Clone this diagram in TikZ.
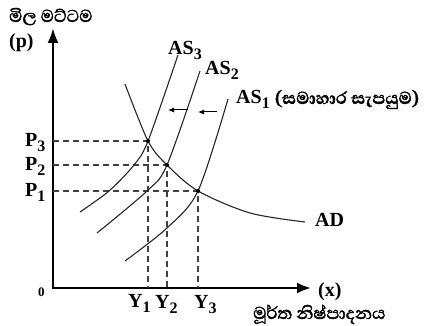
\documentclass[tikz,border=0pt]{standalone}
\usepackage{fontspec}
\setmainfont{Liberation Serif}
\newfontfamily\sinhalafont[Script=Sinhala,FakeBold=1.6]{Abhaya Libre}
\usetikzlibrary{arrows.meta}
\newcommand\sbx[1]{\raisebox{-0.22em}{\fontsize{16}{16}\selectfont #1}}
\begin{document}
\begin{tikzpicture}[x=1pt,y=-1pt,
  lbl/.style={font=\fontsize{20}{20}\selectfont\bfseries, inner sep=0pt, anchor=base west},
  zlbl/.style={font=\fontsize{13}{13}\selectfont\bfseries, inner sep=0pt, anchor=base west},
  slbl/.style={font=\sinhalafont\fontsize{22}{22}\selectfont, inner sep=0pt, anchor=base west},
  curve/.style={line width=1.1pt, black!85},
  guide/.style={dash pattern=on 6pt off 4pt, line width=1.1pt, black!75},
  axis/.style={line width=2.4pt, {Latex[length=15pt,width=11pt]}-{Latex[length=14pt,width=11pt]}},
  shiftarrow/.style={line width=1pt, -{Latex[length=6pt,width=5pt]}},
  dot/.style={circle, fill=black, inner sep=0pt, minimum size=4pt}]
\useasboundingbox (0,0) rectangle (448,326);
% axes
\coordinate (O) at (53,288);
\coordinate (ytip) at (53,28);
\coordinate (xtip) at (311,288);
\draw[axis] (ytip) -- (O) -- (xtip);
% equilibrium points
\coordinate (E3) at (148,141);
\coordinate (E2) at (167,165);
\coordinate (E1) at (198,191);
\coordinate (P3a) at (53,141);
\coordinate (P2a) at (53,165);
\coordinate (P1a) at (53,191);
\coordinate (Y1a) at (148,288);
\coordinate (Y2a) at (167,288);
\coordinate (Y3a) at (198,288);
% guides
\draw[guide] (P3a) -- (E3) -- (Y1a);
\draw[guide] (P2a) -- (E2) -- (Y2a);
\draw[guide] (P1a) -- (E1) -- (Y3a);
% curves
\draw[curve] plot[smooth] coordinates {(80,212) (109,191) (134,165) (E3) (178,55)};
\draw[curve] plot[smooth] coordinates {(97,233) (147,191) (E2) (200,71)};
\draw[curve] plot[smooth] coordinates {(125,261) (167,228) (E1) (228,99)};
\draw[curve] plot[smooth] coordinates {(125,84) (E3) (E2) (E1) (250,213) (305,222)};
\node[dot] (d3) at (E3) {};
\node[dot] (d2) at (E2) {};
\node[dot] (d1) at (E1) {};
% shift arrows
\coordinate (a1s) at (188,110);
\coordinate (a1e) at (168,110);
\coordinate (a2s) at (217,112);
\coordinate (a2e) at (198,112);
\draw[shiftarrow] (a1s) -- (a1e);
\draw[shiftarrow] (a2s) -- (a2e);
% labels
\node[slbl] (ttl) at (9,22) {මිල මට්ටම};
\node[lbl] (p) at (9,48) {(p)};
\node[zlbl] (zero) at (38,297) {0};
\node[lbl] (P3) at (25,147) {P\sbx{3}};
\node[lbl] (P2) at (25,171) {P\sbx{2}};
\node[lbl] (P1) at (25,197) {P\sbx{1}};
\node[lbl] (Y1) at (128,308) {Y\sbx{1}};
\node[lbl] (Y2) at (155,309) {Y\sbx{2}};
\node[lbl] (Y3) at (194,309) {Y\sbx{3}};
\node[lbl] (x) at (318,297) {(x)};
\node[slbl] (xt) at (253,319) {මූර්ත නිෂ්පාදනය};
\node[lbl] (AS3) at (168,55) {AS\sbx{3}};
\node[lbl] (AS2) at (205,75) {AS\sbx{2}};
\node[lbl] (AS1) at (236,104) {AS\sbx{1} {\sinhalafont\fontsize{22}{22}\selectfont (සමාහාර සැපයුම)}};
\node[lbl] (AD) at (315,227) {AD};
\end{tikzpicture}
\end{document}
